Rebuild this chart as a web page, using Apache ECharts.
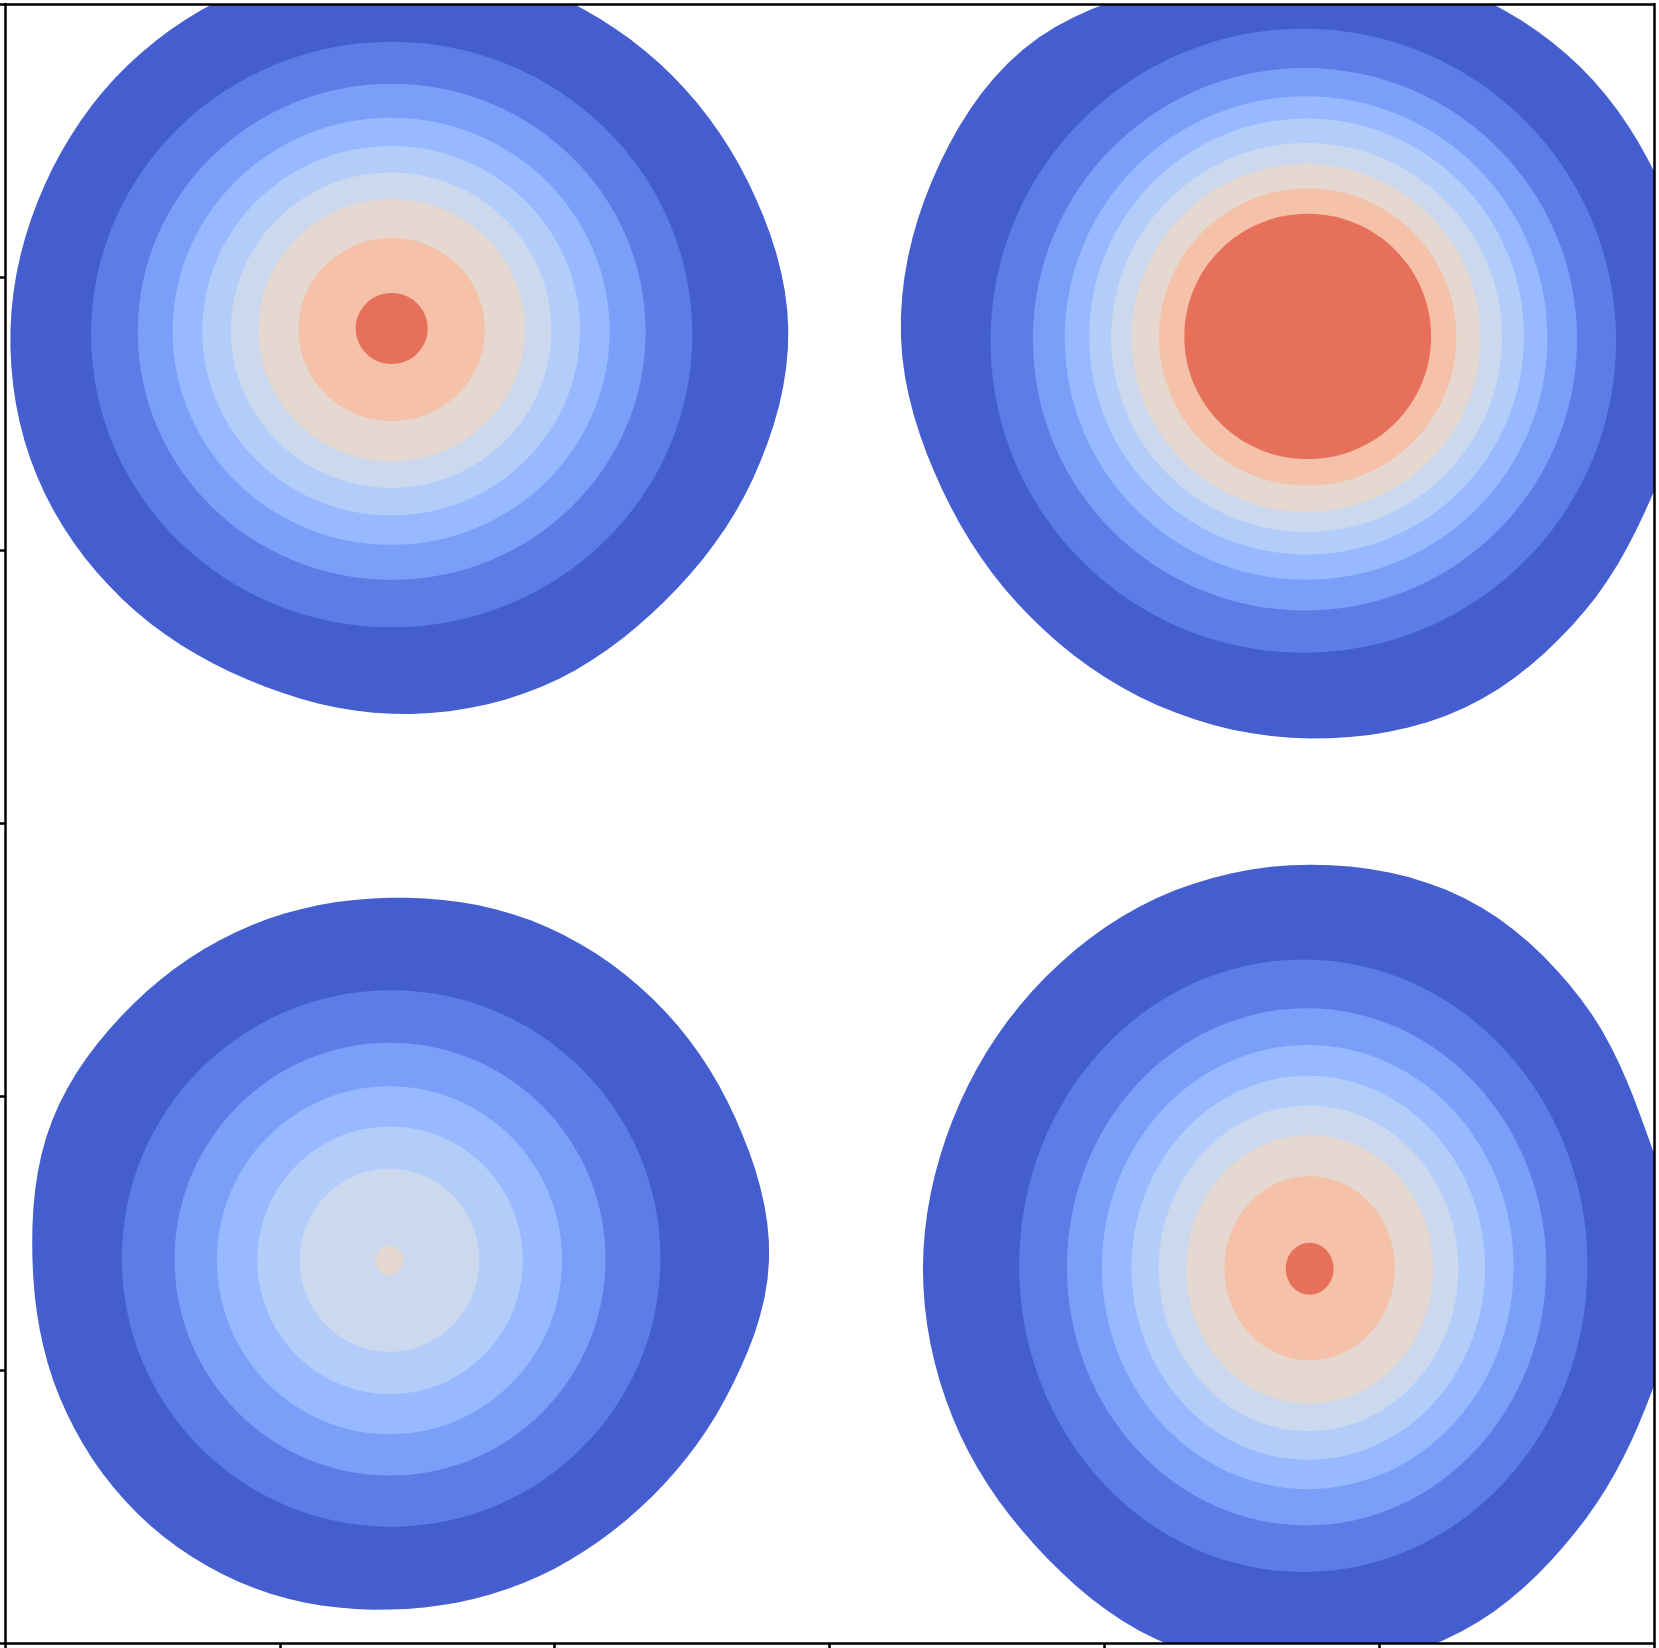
<!DOCTYPE html>
<html>
<head>
<meta charset="utf-8">
<title>Filled contours</title>
<script src="https://cdn.jsdelivr.net/npm/echarts@6/dist/echarts.min.js"></script>
<style>
  html, body { margin: 0; padding: 0; background: #fff; }
  #chart { width: 1659px; height: 1648px; }
</style>
</head>
<body>
<div id="chart"></div>
<script>
// band colours, lowest level (outermost) to highest
const bandColors = ['#445dcf', '#5d7ce6', '#7b9ff9', '#98b9ff', '#b3cdfb', '#cbd8ee', '#e4d8d1', '#f5c1a8', '#e6705a'];

const axisMin = 0;
const axisMax = 6;
const tickStep = 1;

// lowest band outline of each bump: centre, then radius every 22.5 deg (counter-clockwise from east)
const outerCenters = [[1.41, 4.81], [4.75, 4.78], [1.40, 1.40], [4.75, 1.37]];
const outerRadii = [
  [1.44, 1.40, 1.37, 1.35, 1.35, 1.35, 1.36, 1.37, 1.39, 1.40, 1.39, 1.38, 1.40, 1.41, 1.40, 1.42],
  [1.42, 1.39, 1.39, 1.38, 1.38, 1.39, 1.48, 1.49, 1.49, 1.45, 1.44, 1.45, 1.46, 1.46, 1.41, 1.37],
  [1.38, 1.36, 1.35, 1.34, 1.32, 1.32, 1.32, 1.33, 1.30, 1.30, 1.30, 1.29, 1.27, 1.27, 1.28, 1.32],
  [1.34, 1.32, 1.39, 1.46, 1.47, 1.46, 1.43, 1.41, 1.41, 1.41, 1.42, 1.46, 1.46, 1.43, 1.36, 1.32]
];

// higher bands as ellipses [cx, cy, rx, ry], from level 1 upwards
const bandsTopLeft = [
  [1.407, 4.790, 1.094, 1.072],
  [1.407, 4.800, 0.924, 0.908],
  [1.405, 4.802, 0.795, 0.782],
  [1.405, 4.804, 0.687, 0.676],
  [1.405, 4.806, 0.583, 0.577],
  [1.407, 4.806, 0.485, 0.480],
  [1.407, 4.808, 0.339, 0.335],
  [1.407, 4.812, 0.131, 0.130]
];
const bandsTopRight = [
  [4.724, 4.767, 1.138, 1.142],
  [4.730, 4.773, 0.990, 0.993],
  [4.734, 4.777, 0.878, 0.885],
  [4.736, 4.783, 0.791, 0.798],
  [4.736, 4.779, 0.711, 0.712],
  [4.734, 4.777, 0.635, 0.637],
  [4.740, 4.781, 0.541, 0.544],
  [4.740, 4.783, 0.449, 0.449]
];
const bandsBottomLeft = [
  [1.405, 1.408, 0.980, 0.982],
  [1.401, 1.405, 0.784, 0.792],
  [1.399, 1.401, 0.628, 0.637],
  [1.401, 1.401, 0.483, 0.490],
  [1.399, 1.401, 0.327, 0.335],
  [1.399, 1.399, 0.050, 0.054]
];
const bandsBottomRight = [
  [4.724, 1.381, 1.034, 1.121],
  [4.736, 1.377, 0.872, 0.947],
  [4.740, 1.376, 0.749, 0.813],
  [4.742, 1.374, 0.643, 0.703],
  [4.743, 1.372, 0.545, 0.596],
  [4.747, 1.368, 0.449, 0.492],
  [4.747, 1.372, 0.310, 0.337],
  [4.747, 1.370, 0.087, 0.095]
];

const outerData = outerCenters.map((c, i) => [c[0], c[1], i]);

// flatten, tagging each ellipse with its level, then draw low levels first
const bandData = [];
[bandsTopLeft, bandsTopRight, bandsBottomLeft, bandsBottomRight].forEach(bands => {
  bands.forEach((b, k) => bandData.push([b[0], b[1], b[2], b[3], k + 1]));
});
bandData.sort((a, b) => a[4] - b[4]);

// closed outline through the radii, curved in polar terms so it stays round
const STEPS = 8;
function outlinePoints(c, radii, pxPerUnit) {
  const n = radii.length;
  const pts = [];
  for (let k = 0; k < n; k++) {
    const r0 = radii[(k - 1 + n) % n], r1 = radii[k], r2 = radii[(k + 1) % n], r3 = radii[(k + 2) % n];
    for (let s = 0; s < STEPS; s++) {
      const t = s / STEPS;
      const r = 0.5 * (2 * r1 + (r2 - r0) * t + (2 * r0 - 5 * r1 + 4 * r2 - r3) * t * t +
        (3 * r1 - r0 - 3 * r2 + r3) * t * t * t);
      const a = (k + t) * 2 * Math.PI / n;
      pts.push([c[0] + r * pxPerUnit * Math.cos(a), c[1] - r * pxPerUnit * Math.sin(a)]);
    }
  }
  return pts;
}

const chart = echarts.init(document.getElementById('chart'));

const axisCommon = {
  type: 'value',
  min: axisMin,
  max: axisMax,
  interval: tickStep,
  axisLabel: { show: false },
  splitLine: { show: false },
  axisLine: { show: true, onZero: false, lineStyle: { color: '#000', width: 2.5 } },
  z: 10
};

chart.setOption({
  animation: false,
  backgroundColor: '#fff',
  grid: { left: 5, top: 4, width: 1649, height: 1639, outerBoundsMode: 'none', containLabel: false },
  xAxis: [
    Object.assign({}, axisCommon, {
      position: 'bottom',
      axisTick: { show: true, inside: false, length: 10, lineStyle: { color: '#000', width: 2.5 } }
    }),
    Object.assign({}, axisCommon, { position: 'top', axisTick: { show: false } })
  ],
  yAxis: [
    Object.assign({}, axisCommon, {
      position: 'left',
      axisTick: { show: true, inside: false, length: 10, lineStyle: { color: '#000', width: 2.5 } }
    }),
    Object.assign({}, axisCommon, { position: 'right', axisTick: { show: false } })
  ],
  series: [
    {
      type: 'custom',
      name: 'lowest band',
      clip: true,
      xAxisIndex: 0,
      yAxisIndex: 0,
      data: outerData,
      renderItem: (params, api) => {
        const idx = api.value(2);
        const c = api.coord([api.value(0), api.value(1)]);
        const pxPerUnit = api.size([1, 0])[0];
        return {
          type: 'polygon',
          shape: { points: outlinePoints(c, outerRadii[idx], pxPerUnit) },
          style: { fill: bandColors[0] }
        };
      }
    },
    {
      type: 'custom',
      name: 'upper bands',
      clip: true,
      xAxisIndex: 0,
      yAxisIndex: 0,
      data: bandData,
      renderItem: (params, api) => {
        const c = api.coord([api.value(0), api.value(1)]);
        const s = api.size([api.value(2), api.value(3)]);
        return {
          type: 'ellipse',
          shape: { cx: c[0], cy: c[1], rx: s[0], ry: s[1] },
          style: { fill: bandColors[api.value(4)] }
        };
      }
    }
  ]
});
</script>
</body>
</html>
